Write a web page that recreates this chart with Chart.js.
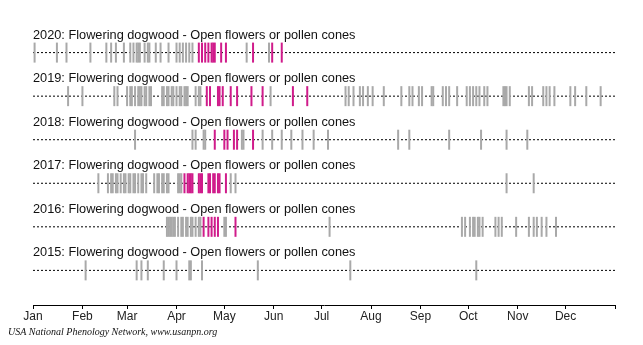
<!DOCTYPE html>
<html>
<head>
<meta charset="utf-8">
<script src="https://cdn.jsdelivr.net/npm/chart.js@4.4.1/dist/chart.umd.min.js"></script>
<style>
  html, body { margin: 0; padding: 0; background: #fff; }
  #wrap { width: 643px; height: 345px; }
</style>
</head>
<body>
<div id="wrap"><canvas id="pheno"></canvas></div>
<script>
// data: day of year of each observation, gray = "no", magenta = "yes"
const years = [2020, 2019, 2018, 2017, 2016, 2015];
const species = 'Flowering dogwood';
const phenophase = 'Open flowers or pollen cones';

const monthLabels = ['Jan', 'Feb', 'Mar', 'Apr', 'May', 'Jun', 'Jul', 'Aug', 'Sep', 'Oct', 'Nov', 'Dec'];
const monthStarts = [0, 31, 59, 90, 120, 151, 181, 212, 243, 273, 304, 334, 365];

const no2020 = [1, 15, 21, 36, 46, 49, 52, 57, 61, 63, 65, 66, 67, 70, 72, 73, 77, 80, 85, 90, 92, 94, 96, 98, 100, 134, 148];
const yes2020 = [104, 106, 108, 110, 112, 113, 114, 118, 121, 138, 150, 156];

const no2019 = [22, 31, 51, 53, 59, 61, 62, 64, 66, 67, 68, 70, 71, 73, 74, 81, 82, 84, 85, 87, 88, 90, 92, 93, 95, 96, 97, 102, 104, 105, 149,
  196, 198, 201, 205, 207, 210, 213, 220, 231, 236, 238, 242, 244, 250, 251, 257, 259, 261, 266, 272, 274, 276, 278, 280, 283, 285,
  295, 296, 297, 299, 311, 313, 320, 322, 324, 327, 337, 340, 347, 356];
const yes2019 = [109, 111, 116, 117, 119, 124, 128, 137, 144, 163, 172];

const no2018 = [64, 100, 102, 107, 108, 131, 132, 144, 150, 156, 162, 169, 176, 185, 229, 236, 261, 281, 297, 310];
const yes2018 = [114, 120, 122, 126, 128, 138];

const no2017 = [41, 47, 49, 50, 52, 53, 55, 57, 58, 60, 61, 63, 64, 66, 68, 69, 71, 76, 78, 79, 81, 82, 84, 85, 91, 92, 93, 124, 127, 297, 314];
const yes2017 = [95, 97, 98, 99, 100, 104, 105, 106, 110, 111, 113, 114, 116, 117, 121];

const no2016 = [84, 85, 86, 87, 88, 89, 91, 93, 94, 96, 97, 99, 100, 102, 104, 105, 120, 121, 186,
  269, 271, 274, 276, 277, 279, 280, 282, 290, 292, 294, 303, 311, 314, 316, 319, 322, 328];
const yes2016 = [107, 110, 112, 114, 116, 127];

const no2015 = [33, 65, 68, 72, 82, 90, 98, 99, 106, 141, 199, 278];
const yes2015 = [];

const noObs = [no2020, no2019, no2018, no2017, no2016, no2015];
const yesObs = [yes2020, yes2019, yes2018, yes2017, yes2016, yes2015];

const grayColor = '#a9a9a9';
const magenta = '#d01c8b';

// row value: 2020 on top
function rowOf(i) { return years.length - 1 - i; }

function marks(days, row) {
  return days.map(d => ({ x: d, y: row }));
}

const datasets = [];
// yes marks first so they end up on top
years.forEach((yr, i) => {
  datasets.push({
    type: 'scatter',
    data: marks(yesObs[i], rowOf(i)),
    pointStyle: 'line',
    rotation: 90,
    radius: 10,
    hoverRadius: 10,
    borderColor: magenta,
    borderWidth: 2,
    clip: false
  });
});
years.forEach((yr, i) => {
  datasets.push({
    type: 'scatter',
    data: marks(noObs[i], rowOf(i)),
    pointStyle: 'line',
    rotation: 90,
    radius: 10,
    hoverRadius: 10,
    borderColor: grayColor,
    borderWidth: 2,
    clip: false
  });
});
// dotted baselines
years.forEach((yr, i) => {
  datasets.push({
    type: 'line',
    data: [{ x: 0, y: rowOf(i) }, { x: 365, y: rowOf(i) }],
    borderColor: '#000',
    borderWidth: 1,
    borderDash: [2, 2],
    pointRadius: 0,
    clip: false
  });
});

// row titles and footer
const textPlugin = {
  id: 'phenoText',
  afterDraw(chart) {
    const ctx = chart.ctx;
    const area = chart.chartArea;
    const y = chart.scales.y;
    ctx.save();
    ctx.fillStyle = '#111';
    ctx.font = '12.75px "Liberation Sans", Arial, sans-serif';
    ctx.textBaseline = 'alphabetic';
    years.forEach((yr, i) => {
      ctx.fillText(yr + ': ' + species + ' - ' + phenophase, area.left, y.getPixelForValue(rowOf(i)) - 14);
    });
    ctx.font = 'italic 10px "Liberation Serif", "Times New Roman", serif';
    ctx.fillText('USA National Phenology Network, www.usanpn.org', 8, 335);
    ctx.restore();
  }
};

new Chart(document.getElementById('pheno'), {
  type: 'scatter',
  data: { datasets: datasets },
  plugins: [textPlugin],
  options: {
    responsive: true,
    maintainAspectRatio: false,
    animation: false,
    events: [],
    layout: { padding: { left: 33, right: 28, top: 9, bottom: 18 } },
    plugins: { legend: { display: false }, tooltip: { enabled: false } },
    scales: {
      x: {
        type: 'linear',
        min: 0,
        max: 365,
        afterBuildTicks: (scale) => {
          scale.ticks = monthStarts.map(v => ({ value: v }));
        },
        afterFit: (scale) => { scale.height = 22; },
        grid: { drawOnChartArea: false, drawTicks: true, tickLength: 4, color: '#000' },
        border: { display: true, color: '#000', width: 1 },
        ticks: {
          autoSkip: false,
          maxRotation: 0,
          padding: 0,
          color: '#222',
          font: { family: '"Liberation Sans", Arial, sans-serif', size: 12 },
          callback: (v, i) => monthLabels[i] || ''
        }
      },
      y: {
        display: false,
        min: -0.795,
        max: 5.932
      }
    }
  }
});
</script>
</body>
</html>
